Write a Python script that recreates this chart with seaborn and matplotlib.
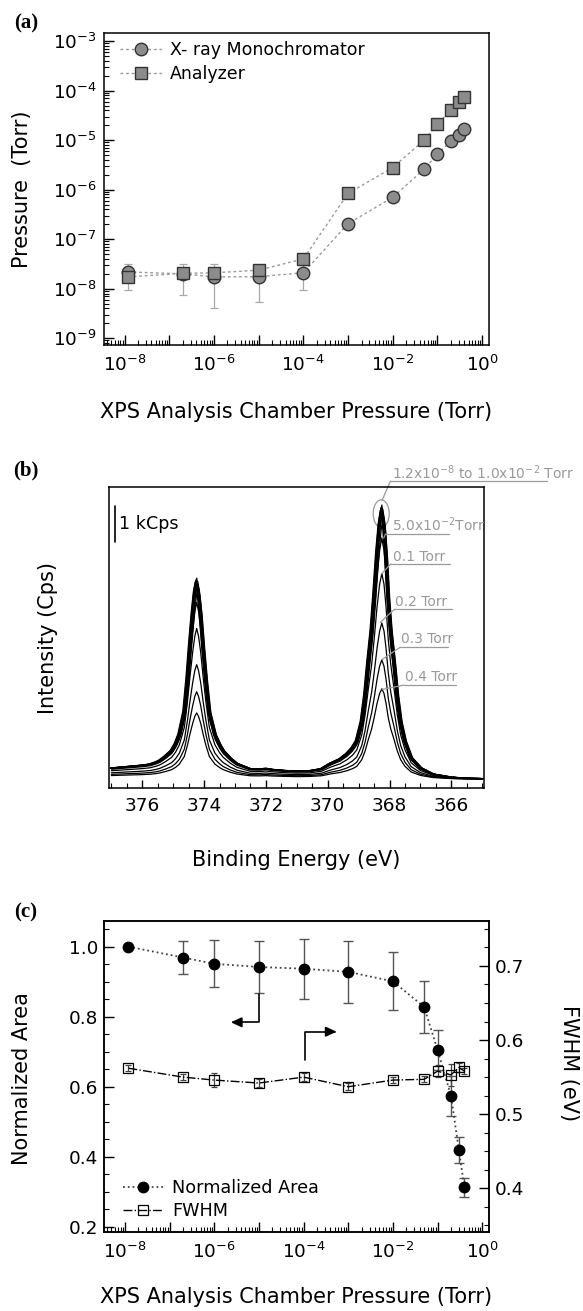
import numpy as np
import pandas as pd
import matplotlib
matplotlib.use("Agg")
import matplotlib.pyplot as plt
import matplotlib.ticker as mticker
from matplotlib.patches import Ellipse
import seaborn as sns

# chamber pressures used in (a) and (c), Torr
chamber_p = [1.2e-8, 2e-7, 1e-6, 1e-5, 1e-4, 1e-3, 1e-2, 5e-2, 0.1, 0.2, 0.3, 0.4]

# (a) gauge readings, Torr
mono_p = [2.18e-8, 2.0e-8, 1.73e-8, 1.75e-8, 2.1e-8, 2.06e-7, 7.0e-7, 2.6e-6,
          5.25e-6, 9.6e-6, 1.3e-5, 1.7e-5]
analyzer_p = [1.73e-8, 2.05e-8, 2.09e-8, 2.37e-8, 4.0e-8, 8.4e-7, 2.8e-6, 1.0e-5,
              2.15e-5, 4.0e-5, 6.0e-5, 7.3e-5]
# error bar ends of the first five monochromator points
mono_err_low = [9.3e-9, 7.4e-9, 4.1e-9, 5.4e-9, 9.3e-9]
mono_err_high = [3.1e-8, 3.1e-8, 3.1e-8, 3.0e-8, 3.0e-8]

# (b) Ag 3d spectrum at 1.2x10^-8 Torr (kCps above the floor)
be_grid = [377.0, 376.5, 376.0, 375.75, 375.55, 375.43, 375.25, 375.05, 374.92, 374.80,
           374.64, 374.54, 374.46, 374.37, 374.30, 374.24, 374.18, 374.11, 374.03, 373.94,
           373.83, 373.65, 373.50, 373.38, 373.15, 372.94, 372.51, 372.2, 372.0, 371.8,
           371.4, 371.0, 370.6, 370.2, 369.92, 369.6, 369.38, 369.20, 369.06, 368.90,
           368.79, 368.69, 368.58, 368.50, 368.40, 368.32, 368.25, 368.18, 368.11, 368.04,
           367.96, 367.85, 367.75, 367.64, 367.50, 367.3, 367.0, 366.6, 366.0, 365.5,
           365.0]
ref_counts = [0.32, 0.36, 0.40, 0.43, 0.49, 0.54, 0.66, 0.82, 1.02, 1.29,
              1.94, 2.88, 3.81, 4.75, 5.35, 5.64, 5.35, 4.75, 3.81, 2.88,
              1.94, 1.29, 1.00, 0.82, 0.60, 0.45, 0.30, 0.29, 0.31, 0.28,
              0.25, 0.23, 0.24, 0.30, 0.45, 0.58, 0.73, 0.90, 1.10, 1.66,
              2.41, 3.35, 4.28, 5.21, 6.50, 7.30, 7.69, 7.30, 6.40, 5.21,
              4.28, 3.35, 2.41, 1.66, 1.10, 0.62, 0.33, 0.15, 0.06, 0.03,
              0.02]
# peak height of each spectrum relative to the 1.2x10^-8 Torr one
peak_ratio = [1.0, 0.99, 0.985, 0.98, 0.975, 0.97, 0.96, 0.88, 0.75, 0.57, 0.435, 0.33]
# small binding energy offsets of the individual spectra, eV
be_shift = [0.0, 0.03, -0.03, 0.05, -0.02, 0.02, -0.05, 0.0, 0.0, 0.0, 0.0, 0.0]
spec_labels = ["1.2x10$^{-8}$ to 1.0x10$^{-2}$ Torr", "5.0x10$^{-2}$Torr",
               "0.1 Torr", "0.2 Torr", "0.3 Torr", "0.4 Torr"]

# (c) normalized Ag 3d area and FWHM
norm_area = [1.0, 0.969, 0.951, 0.942, 0.937, 0.928, 0.901, 0.828, 0.705, 0.574, 0.419, 0.312]
area_err = [0.0, 0.048, 0.067, 0.073, 0.086, 0.088, 0.083, 0.074, 0.058, 0.057, 0.036, 0.027]
fwhm = [0.562, 0.550, 0.546, 0.542, 0.550, 0.537, 0.546, 0.547, 0.558, 0.553, 0.563, 0.558]
fwhm_err = [0.004, 0.004, 0.009, 0.006, 0.005, 0.005, 0.004, 0.004, 0.008, 0.015, 0.006, 0.004]


sns.set_theme(style="ticks", rc={"xtick.direction": "in", "ytick.direction": "in",
                                 "axes.linewidth": 1.1, "axes.edgecolor": "black",
                                 "text.color": "black", "axes.labelcolor": "black",
                                 "xtick.color": "black", "ytick.color": "black"})
plt.rcParams["font.family"] = ["DejaVu Sans"]
plt.rcParams["mathtext.fontset"] = "dejavusans"

TICK = 13.3
LAB = 15
GRAY = "#9a9a9a"

fig = plt.figure(figsize=(5.83, 13.11), dpi=100)


def log_axis_ticks(ax, which_axis, label_even_only):
    axis = ax.xaxis if which_axis == "x" else ax.yaxis
    axis.set_major_locator(mticker.LogLocator(base=10, numticks=20))
    axis.set_minor_locator(mticker.LogLocator(base=10, subs=np.arange(2, 10), numticks=20))

    def fmt(v, pos):
        e = int(round(np.log10(v)))
        if label_even_only and e % 2:
            return ""
        return f"$10^{{{e}}}$"
    axis.set_major_formatter(mticker.FuncFormatter(fmt))
    axis.set_minor_formatter(mticker.NullFormatter())


def panel_letter(y_px, text):
    fig.text(26 / 583, 1 - y_px / 1311, text, ha="center", va="center",
             fontsize=15, fontweight="bold", family="Liberation Serif")


# ---------------- (a) ----------------
ax_a = fig.add_axes([0.1779, 0.7368, 0.6607, 0.2378])
ax_a.set_xscale("log")
ax_a.set_yscale("log")

lo = [m - l for m, l in zip(mono_p[:5], mono_err_low)]
hi = [h - m for m, h in zip(mono_p[:5], mono_err_high)]
ax_a.errorbar(chamber_p[:5], mono_p[:5], yerr=[lo, hi], fmt="none", ecolor="#a8a8a8",
              elinewidth=0.9, capsize=2.9, capthick=0.9, zorder=1)

sns.lineplot(x=chamber_p, y=mono_p, ax=ax_a, color="#9a9a9a", linestyle=(0, (2, 2)),
             linewidth=1.0, marker="o", markersize=9, markerfacecolor="#8c8c8c",
             markeredgecolor="#333333", markeredgewidth=1.0, label="X- ray Monochromator",
             zorder=3, legend=False)
sns.lineplot(x=chamber_p, y=analyzer_p, ax=ax_a, color="#9a9a9a", linestyle=(0, (2, 2)),
             linewidth=1.0, marker="s", markersize=8.5, markerfacecolor="#8c8c8c",
             markeredgecolor="#333333", markeredgewidth=1.0, label="Analyzer",
             zorder=3, legend=False)

ax_a.set_xlim(10 ** -8.466, 10 ** 0.15)
ax_a.set_ylim(10 ** -9.138, 10 ** -2.842)
log_axis_ticks(ax_a, "x", True)
log_axis_ticks(ax_a, "y", False)
ax_a.tick_params(which="major", length=7, width=1, labelsize=TICK, top=False, right=False)
ax_a.tick_params(which="minor", length=3.5, width=0.8, top=False, right=False)
ax_a.tick_params(axis="x", pad=7)
ax_a.tick_params(axis="y", pad=5)

ax_a.set_xlabel("XPS Analysis Chamber Pressure (Torr)", fontsize=LAB, va="center")
ax_a.xaxis.set_label_coords(0.5, -0.215)
ax_a.set_ylabel("Pressure  (Torr)", fontsize=LAB, va="center")
ax_a.yaxis.set_label_coords(-0.211, 0.5)

handles = [l for l in ax_a.lines if not l.get_label().startswith("_")]
ax_a.legend(handles=handles, labels=[h.get_label() for h in handles], loc="upper left",
            bbox_to_anchor=(0.042, 0.975), frameon=False, fontsize=12.5, borderpad=0,
            borderaxespad=0, handlelength=2.4, handletextpad=0.5, labelspacing=0.35)
panel_letter(23.3, "(a)")

# ---------------- (b) ----------------
ax_b = fig.add_axes([0.1868, 0.3992, 0.6436, 0.2296])
rows = []
for p, r, s in zip(chamber_p, peak_ratio, be_shift):
    for e, c in zip(be_grid, ref_counts):
        rows.append((p, e + s, r * c))
spectra = pd.DataFrame(rows, columns=["pressure", "energy", "counts"])
sns.lineplot(data=spectra, x="energy", y="counts", units="pressure", estimator=None,
             sort=False, color="black", linewidth=0.9, ax=ax_b, legend=False)

ax_b.set_xlim(377.08, 364.94)
ax_b.set_ylim(-0.234, 8.206)
ax_b.xaxis.set_major_locator(mticker.MultipleLocator(2))
ax_b.xaxis.set_minor_locator(mticker.MultipleLocator(0.5))
ax_b.xaxis.set_major_formatter(mticker.FormatStrFormatter("%d"))
ax_b.set_yticks([])
ax_b.tick_params(axis="x", which="major", length=6, width=1, labelsize=TICK, pad=7, top=False)
ax_b.tick_params(axis="x", which="minor", length=3.5, width=0.8, top=False)
ax_b.set_xlabel("Binding Energy (eV)", fontsize=LAB, va="center")
ax_b.xaxis.set_label_coords(0.5, -0.240)
ax_b.set_ylabel("Intensity (Cps)", fontsize=LAB, va="center")
ax_b.yaxis.set_label_coords(-0.1615, 0.496)

# 1 kCps scale bar
ax_b.plot([376.87, 376.87], [6.66, 7.66], color="black", lw=1.2)
ax_b.text(376.74, 7.15, "1 kCps", fontsize=12.6, ha="left", va="center")

# pressure labels: text pos, underline x0, x1, y, leader start
label_layout = [
    ((367.92, 8.61), (367.97, 362.92, 8.36), (368.24, 7.83)),
    ((367.92, 7.13), (368.13, 366.09, 6.88), (368.19, 6.76)),
    ((367.88, 6.24), (367.96, 366.04, 6.04), (368.26, 5.76)),
    ((367.82, 4.98), (367.84, 365.98, 4.77), (368.30, 4.40)),
    ((367.63, 3.93), (367.66, 366.10, 3.70), (368.24, 3.36)),
    ((367.50, 2.88), (367.54, 365.86, 2.64), (368.24, 2.52)),
]
for txt, (tpos, (ux0, ux1, uy), (lx, ly)) in zip(spec_labels, label_layout):
    ax_b.text(tpos[0], tpos[1], txt, color=GRAY, fontsize=10.0, ha="left", va="center",
              clip_on=False)
    ax_b.plot([ux0, ux1], [uy, uy], color=GRAY, lw=0.9, clip_on=False)
    ax_b.plot([lx, ux0], [ly, uy], color=GRAY, lw=0.9, clip_on=False)
ax_b.add_patch(Ellipse((368.27, 7.45), 0.52, 0.77, fill=False, edgecolor=GRAY, lw=0.9))
panel_letter(470, "(b)")

# ---------------- (c) ----------------
ax_c = fig.add_axes([0.1786, 0.0605, 0.66, 0.2370])
ax_c.set_xscale("log")
ax_r = ax_c.twinx()

ax_c.errorbar(chamber_p, norm_area, yerr=area_err, fmt="none", ecolor="#555555",
              elinewidth=1.0, capsize=3.3, capthick=1.0, zorder=2)
sns.lineplot(x=chamber_p, y=norm_area, ax=ax_c, color="#444444", linestyle=":",
             linewidth=1.3, marker="o", markersize=7.5, markerfacecolor="black",
             markeredgecolor="black", markeredgewidth=1.0, label="Normalized Area",
             zorder=3, legend=False)

ax_r.errorbar(chamber_p, fwhm, yerr=fwhm_err, fmt="none", ecolor="#444444",
              elinewidth=0.9, capsize=2.5, capthick=0.9, zorder=2)
sns.lineplot(x=chamber_p, y=fwhm, ax=ax_r, color="black", linestyle="-.",
             linewidth=1.0, marker="s", markersize=6.5, markerfacecolor="none",
             markeredgecolor="black", markeredgewidth=0.9, label="FWHM",
             zorder=3, legend=False)

ax_c.set_xlim(10 ** -8.466, 10 ** 0.15)
ax_c.set_ylim(0.1857, 1.0734)
ax_r.set_ylim(0.3414, 0.7607)
log_axis_ticks(ax_c, "x", True)
ax_c.yaxis.set_major_locator(mticker.MultipleLocator(0.2))
ax_c.yaxis.set_minor_locator(mticker.MultipleLocator(0.05))
ax_c.yaxis.set_major_formatter(mticker.FormatStrFormatter("%.1f"))
ax_r.yaxis.set_major_locator(mticker.MultipleLocator(0.1))
ax_r.yaxis.set_minor_locator(mticker.MultipleLocator(0.025))
ax_r.yaxis.set_major_formatter(mticker.FormatStrFormatter("%.1f"))

ax_c.tick_params(which="major", length=7, width=1, labelsize=TICK, top=False, right=False)
ax_c.tick_params(which="minor", length=3.5, width=0.8, top=False, right=False)
ax_c.tick_params(axis="x", pad=7)
ax_c.tick_params(axis="y", pad=4)
ax_r.tick_params(axis="y", which="major", direction="in", length=7, width=1,
                 labelsize=TICK, pad=4, left=False)
ax_r.tick_params(axis="y", which="minor", direction="in", length=3.5, width=0.8, left=False)

ax_c.set_xlabel("XPS Analysis Chamber Pressure (Torr)", fontsize=LAB, va="center")
ax_c.xaxis.set_label_coords(0.5, -0.209)
ax_c.set_ylabel("Normalized Area", fontsize=LAB, va="center")
ax_c.yaxis.set_label_coords(-0.2126, 0.494)
ax_r.set_ylabel("FWHM (eV)", fontsize=LAB, rotation=270, va="center")
ax_r.yaxis.set_label_coords(1.208, 0.542)

# bent arrows pointing to each axis
arrow = dict(arrowstyle="-|>,head_length=0.65,head_width=0.3", color="black", lw=1.2,
             shrinkA=0, shrinkB=0, mutation_scale=10)
ax_c.annotate("", xy=(2.35e-6, 0.784), xytext=(1.02e-5, 0.865),
              arrowprops=dict(arrow, connectionstyle="angle,angleA=90,angleB=0,rad=0"))
ax_c.annotate("", xy=(5.5e-4, 0.757), xytext=(1.05e-4, 0.676),
              arrowprops=dict(arrow, connectionstyle="angle,angleA=90,angleB=0,rad=0"))

handles = [l for l in ax_c.lines + ax_r.lines if not l.get_label().startswith("_")]
ax_c.legend(handles=handles, labels=[h.get_label() for h in handles], loc="lower left",
            bbox_to_anchor=(0.048, 0.037), frameon=False, fontsize=12.7, borderpad=0,
            borderaxespad=0, handlelength=2.3, handletextpad=0.5, labelspacing=0.3)
panel_letter(912.5, "(c)")

fig.savefig("out.png", dpi=100)
